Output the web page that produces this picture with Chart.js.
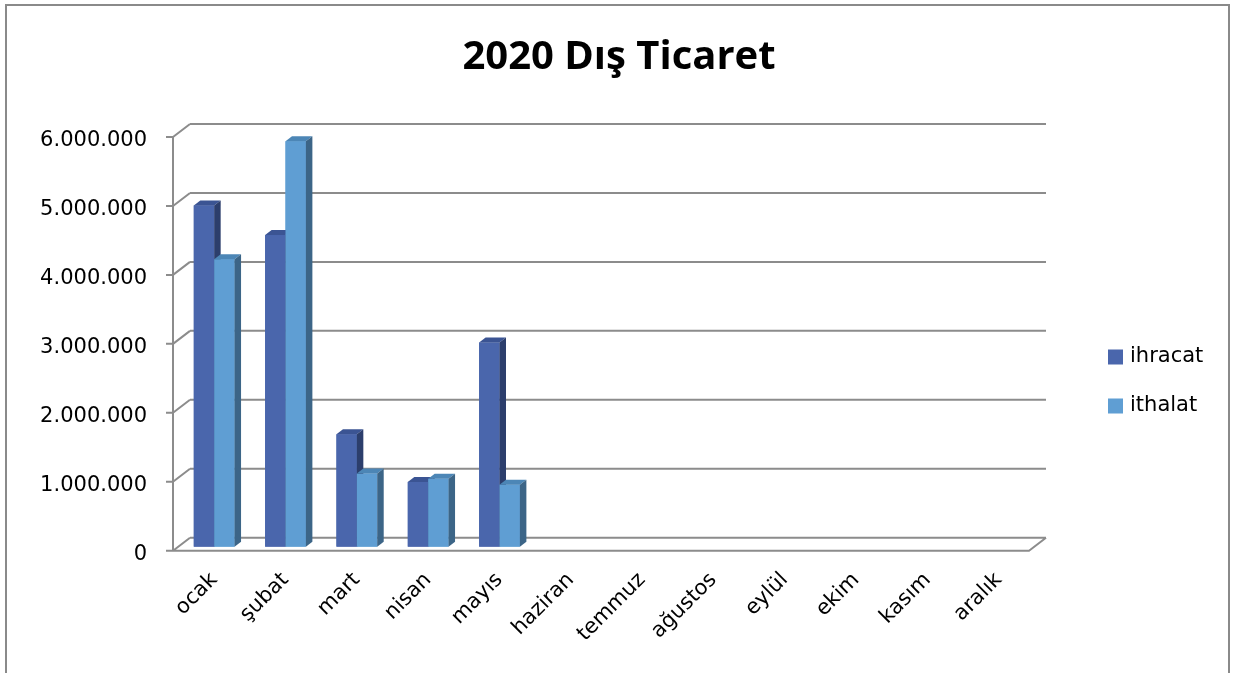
<!DOCTYPE html>
<html lang="tr">
<head>
<meta charset="utf-8">
<title>2020 Dış Ticaret</title>
<script src="https://cdn.jsdelivr.net/npm/chart.js@4.4.1/dist/chart.umd.min.js"></script>
<style>
  html, body { margin: 0; padding: 0; background: #fff; overflow: hidden; }
  canvas { display: block; }
</style>
</head>
<body>
<canvas id="grafik" width="1233" height="673"></canvas>
<script>
// veriler
const baslik = "2020 Dış Ticaret";
const aylar = ["ocak", "şubat", "mart", "nisan", "mayıs", "haziran", "temmuz", "ağustos", "eylül", "ekim", "kasım", "aralık"];
const ihracat = [4950000, 4520000, 1630000, 940000, 2960000, null, null, null, null, null, null, null];
const ithalat = [4170000, 5880000, 1060000, 985000, 900000, null, null, null, null, null, null, null];
const yTikler = [0, 1000000, 2000000, 3000000, 4000000, 5000000, 6000000];

// renkler: on yuz, ust yuz, yan yuz
const renkIhracat = ["#4A66AC", "#3B5493", "#2C3E6C"];
const renkIthalat = ["#5F9ED3", "#4C86B6", "#3C6587"];
const izgaraRengi = "#8C8C8C";

// 3B kaydirmalar (bar duzlemine gore)
const onX = -5.5, onY = 4, arkaX = 11.5, arkaY = -9;
const barDX = 6.5, barDY = -5;

function binlik(v) {
  return String(v).replace(/\B(?=(\d{3})+(?!\d))/g, ".");
}

const ucBoyut = {
  id: "ucBoyut",
  beforeDraw(chart) {
    const ctx = chart.ctx;
    ctx.save();
    ctx.fillStyle = "#fff";
    ctx.fillRect(0, 0, chart.width, chart.height);
    // dis cerceve
    ctx.strokeStyle = "#8A8A8A";
    ctx.lineWidth = 2;
    ctx.strokeRect(6, 5, 1223, 720);
    // baslik
    ctx.fillStyle = "#000";
    ctx.font = "bold 40px 'Open Sans'";
    ctx.textAlign = "center";
    ctx.textBaseline = "alphabetic";
    ctx.fillText(baslik, 619, 68.5);
    // gosterge
    ctx.font = "21px 'DejaVu Sans'";
    ctx.textAlign = "left";
    ctx.textBaseline = "middle";
    chart.data.datasets.forEach((ds, i) => {
      const y = 357 + i * 49;
      ctx.fillStyle = ds.backgroundColor;
      ctx.fillRect(1108, y - 7.5, 15, 15);
      ctx.fillStyle = "#000";
      ctx.fillText(ds.label, 1130, y);
    });
    ctx.restore();
  },
  beforeDatasetsDraw(chart) {
    const ctx = chart.ctx;
    const a = chart.chartArea;
    const ys = chart.scales.y;
    const L = a.left, R = a.right;
    ctx.save();
    ctx.strokeStyle = izgaraRengi;
    ctx.lineWidth = 2;
    ctx.lineCap = "butt";
    ctx.beginPath();
    yTikler.forEach(v => {
      const py = ys.getPixelForValue(v);
      // arka duvar
      ctx.moveTo(L + arkaX, py + arkaY);
      ctx.lineTo(R + arkaX, py + arkaY);
      // sol duvar capraz
      ctx.moveTo(L + onX, py + onY);
      ctx.lineTo(L + arkaX, py + arkaY);
      // tik
      ctx.moveTo(L + onX - 7, py + onY);
      ctx.lineTo(L + onX, py + onY);
    });
    const y0 = ys.getPixelForValue(0);
    const yUst = ys.getPixelForValue(yTikler[yTikler.length - 1]);
    // on dikey eksen
    ctx.moveTo(L + onX, yUst + onY);
    ctx.lineTo(L + onX, y0 + onY);
    // taban
    ctx.moveTo(L + onX, y0 + onY);
    ctx.lineTo(R + onX, y0 + onY);
    ctx.lineTo(R + arkaX, y0 + arkaY);
    ctx.stroke();
    ctx.restore();
  },
  afterDatasetsDraw(chart) {
    const ctx = chart.ctx;
    const renkler = [renkIhracat, renkIthalat];
    ctx.save();
    aylar.forEach((ay, i) => {
      chart.data.datasets.forEach((ds, d) => {
        if (ds.data[i] == null) return;
        const el = chart.getDatasetMeta(d).data[i];
        const p = el.getProps(["x", "y", "base", "width"], true);
        const l = p.x - p.width / 2, r = p.x + p.width / 2;
        const t = p.y, b = p.base;
        const rk = renkler[d];
        ctx.fillStyle = rk[0];
        ctx.fillRect(l, t, r - l, b - t);
        ctx.fillStyle = rk[1];
        ctx.beginPath();
        ctx.moveTo(l, t);
        ctx.lineTo(l + barDX, t + barDY);
        ctx.lineTo(r + barDX, t + barDY);
        ctx.lineTo(r, t);
        ctx.closePath();
        ctx.fill();
        ctx.fillStyle = rk[2];
        ctx.beginPath();
        ctx.moveTo(r, t);
        ctx.lineTo(r + barDX, t + barDY);
        ctx.lineTo(r + barDX, b + barDY);
        ctx.lineTo(r, b);
        ctx.closePath();
        ctx.fill();
      });
    });
    ctx.restore();
  }
};

new Chart(document.getElementById("grafik"), {
  type: "bar",
  data: {
    labels: aylar,
    datasets: [
      { label: "ihracat", data: ihracat, backgroundColor: renkIhracat[0], borderWidth: 0 },
      { label: "ithalat", data: ithalat, backgroundColor: renkIthalat[0], borderWidth: 0 }
    ]
  },
  options: {
    responsive: false,
    devicePixelRatio: 1,
    animation: false,
    events: [],
    layout: { padding: { top: 133, right: 198.5, left: 0, bottom: 0 } },
    datasets: { bar: { categoryPercentage: 2 / 3.5, barPercentage: 1 } },
    plugins: {
      legend: { display: false },
      title: { display: false },
      tooltip: { enabled: false }
    },
    scales: {
      x: {
        grid: { display: false, drawTicks: false },
        border: { display: false },
        afterFit(s) { s.height = 126.3; },
        ticks: {
          autoSkip: false,
          maxRotation: 45,
          minRotation: 45,
          padding: 21,
          color: "#000",
          font: { family: "'DejaVu Sans'", size: 21 }
        }
      },
      y: {
        min: 0,
        max: 6000000,
        grid: { display: false, drawTicks: false },
        border: { display: false },
        afterFit(s) { s.width = 178.5; },
        afterBuildTicks(s) { s.ticks = yTikler.map(v => ({ value: v })); },
        ticks: {
          padding: 31.5,
          labelOffset: 8,
          color: "#000",
          font: { family: "'DejaVu Sans'", size: 21 },
          callback: v => binlik(v)
        }
      }
    }
  },
  plugins: [ucBoyut]
});
</script>
</body>
</html>
